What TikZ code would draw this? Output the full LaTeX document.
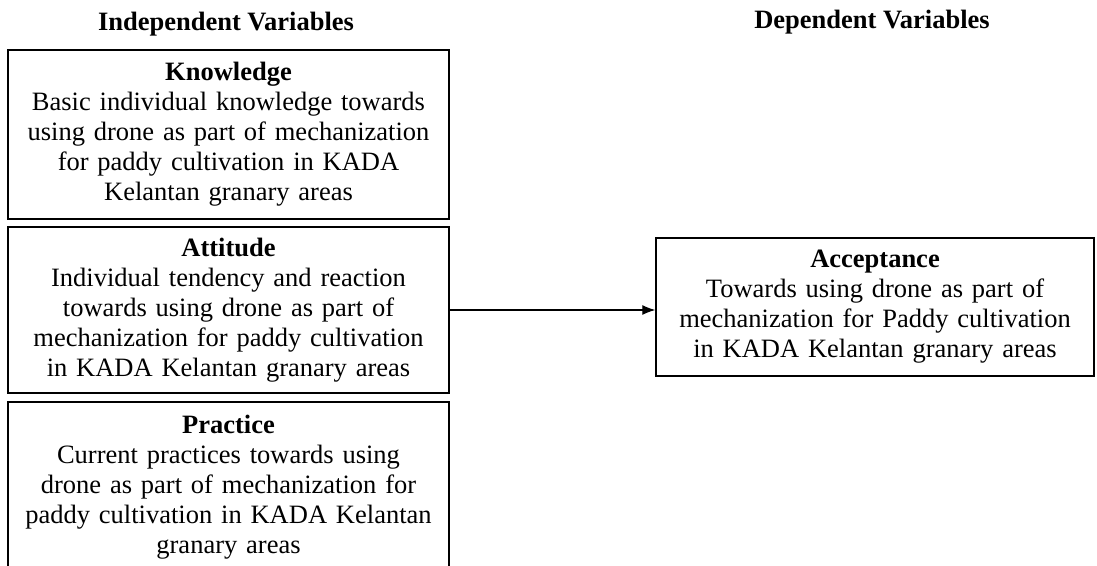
\documentclass[tikz,border=0pt]{standalone}
\usepackage{fontspec}
\setmainfont{Liberation Serif}
\usetikzlibrary{arrows.meta}
\tikzset{
  varbox/.style={draw, line width=1.3pt, text width=425pt, align=center, inner xsep=8pt, inner ysep=0pt, font=\fontsize{26.5}{30}\selectfont},
  heading/.style={font=\bfseries\fontsize{26.5}{30}\selectfont}
}

\begin{document}
\begin{tikzpicture}[x=1pt,y=-1pt]
\useasboundingbox (0,0) rectangle (1097,565);
\clip (0,0) rectangle (1097,565);
\node[heading] at (226,24) (indep) {Independent Variables};
\node[heading] at (872,22) (dep) {Dependent Variables};
\node[varbox, minimum height=169pt] at (228.5,134.5) (know) {\textbf{Knowledge}\\Basic individual knowledge towards\\using drone as part of mechanization\\for paddy cultivation in KADA\\Kelantan granary areas};
\node[varbox, minimum height=166pt] at (228.5,310) (att) {\textbf{Attitude}\\Individual tendency and reaction\\towards using drone as part of\\mechanization for paddy cultivation\\in KADA Kelantan granary areas};
\node[varbox, minimum height=170pt] at (228.5,487) (prac) {\textbf{Practice}\\Current practices towards using\\drone as part of mechanization for\\paddy cultivation in KADA Kelantan\\granary areas};
\node[varbox, text width=422pt, minimum height=138pt] at (875,307) (accept) {\textbf{Acceptance}\\Towards using drone as part of\\mechanization for Paddy cultivation\\in KADA Kelantan granary areas};
\draw[-{Latex[length=13pt,width=10pt]}, line width=1.2pt] (att.east) -- (att.east -| accept.west);
\end{tikzpicture}
\end{document}
